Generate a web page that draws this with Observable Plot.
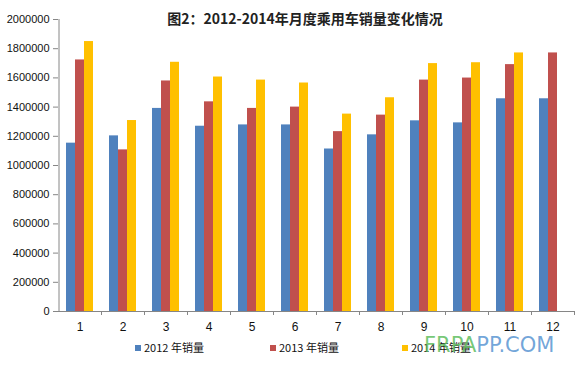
<!DOCTYPE html>
<html>
<head>
<meta charset="utf-8">
<script src="https://cdn.jsdelivr.net/npm/d3@7"></script>
<script src="https://cdn.jsdelivr.net/npm/@observablehq/plot@0.6"></script>
<style>
  body { margin: 0; background: #fff; }
  #wrap { position: relative; width: 583px; height: 370px; overflow: hidden; }
  #title { position: absolute; left: 0; width: 610px; top: 9px; text-align: center;
           font-family: "Noto Sans CJK SC", sans-serif; font-size: 14px; font-weight: bold; color: #222; line-height: 18px; }
  .leg { position: absolute; top: 340px; font-family: "Noto Sans CJK SC", "Liberation Sans", sans-serif; font-size: 11px; color: #111; line-height: 14px; white-space: nowrap; }
  .leg i { display: inline-block; width: 6px; height: 6px; margin-right: 3px; vertical-align: 1px; }
  #wm { position: absolute; left: 424px; top: 333px; font-family: "DejaVu Sans", sans-serif; font-size: 21px; line-height: 24px; }
</style>
</head>
<body>
<div id="wrap">
  <div id="chart"></div>
  <div id="title">图2：2012-2014年月度乘用车销量变化情况</div>
  <div id="legend"></div>
  <div id="wm"><span style="color:rgba(95,190,95,0.85)">FRPA</span><span style="color:rgba(90,150,210,0.85)">PP.COM</span></div>
</div>
<script>
const months = [1, 2, 3, 4, 5, 6, 7, 8, 9, 10, 11, 12];
const seriesNames = ["2012 年销量", "2013 年销量", "2014 年销量"];
const sales2012 = [1153000, 1203000, 1391000, 1269000, 1278000, 1278000, 1113000, 1210000, 1306000, 1292000, 1457000, 1457000];
const sales2013 = [1723000, 1107000, 1579000, 1436000, 1391000, 1400000, 1232000, 1345000, 1585000, 1599000, 1691000, 1771000];
const sales2014 = [1849000, 1308000, 1707000, 1606000, 1585000, 1565000, 1352000, 1464000, 1698000, 1704000, 1771000];
const colors = ["#4F81BD", "#C0504D", "#FFC000"];
const yTicks = [0, 200000, 400000, 600000, 800000, 1000000, 1200000, 1400000, 1600000, 1800000, 2000000];

const allSeries = [sales2012, sales2013, sales2014];
const data = [];
allSeries.forEach((vals, si) => {
  vals.forEach((v, i) => data.push({month: months[i], series: seriesNames[si], value: v}));
});

const W = 583, ML = 58, MR = 9;
const facetW = (W - ML - MR) / months.length;
const padOuter = 0.76;
const step = facetW / (seriesNames.length + 2 * padOuter);
const firstBandCenter = padOuter * step + step / 2;

const chart = Plot.plot({
  width: W,
  height: 335,
  marginTop: 19,
  marginBottom: 24,
  marginLeft: ML,
  marginRight: MR,
  style: {fontFamily: "'Liberation Sans', Arial, sans-serif", fontSize: "11px", color: "#111", background: "transparent"},
  fx: {domain: months, padding: 0, label: null},
  x: {domain: seriesNames, paddingInner: 0, paddingOuter: padOuter, axis: null},
  y: {domain: [0, 2000000], label: null},
  color: {domain: seriesNames, range: colors},
  marks: [
    Plot.barY(data, {fx: "month", x: "series", y: "value", fill: "series"}),
    Plot.ruleY([0], {stroke: "#868686"}),
    Plot.ruleX(data.slice(0, 1), {fx: "month", x: "series", dx: -firstBandCenter, stroke: "#868686"}),
    Plot.axisY({ticks: yTicks, tickSize: 5, tickPadding: 4, tickFormat: d3.format("d"), stroke: "#868686", label: null}),
    Plot.axisFx({anchor: "bottom", tickSize: 0, tickPadding: 11, fontSize: 12, label: null}),
    Plot.axisFx({anchor: "bottom", tickSize: 4, tickFormat: () => "", dx: facetW / 2, stroke: "#868686", label: null})
  ]
});
document.getElementById("chart").appendChild(chart);

// legend
const legend = document.getElementById("legend");
const legX = [135, 270, 402];
seriesNames.forEach((name, i) => {
  const d = document.createElement("div");
  d.className = "leg";
  d.style.left = legX[i] + "px";
  d.innerHTML = `<i style="background:${colors[i]}"></i>${name}`;
  legend.appendChild(d);
});
</script>
</body>
</html>
